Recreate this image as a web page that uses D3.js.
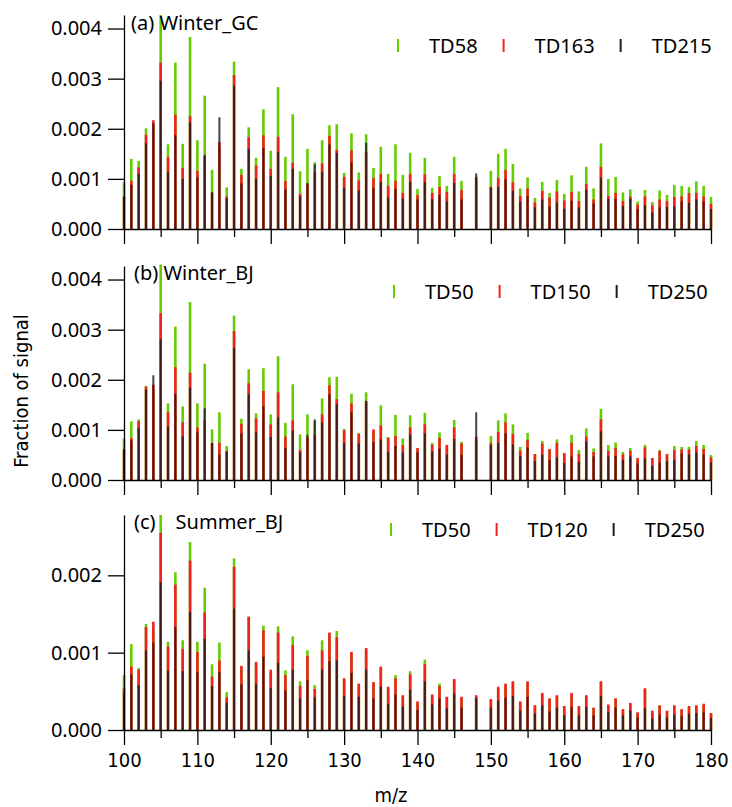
<html>
<head>
  <meta charset="utf-8" />
  <script src="https://cdnjs.cloudflare.com/ajax/libs/d3/7.8.5/d3.min.js"></script>
  <style>
    body { margin: 0; background: #fff; }
    .axis path, .axis line { stroke: #000; stroke-width: 1.3; }
    .axis text { font-family: "Noto Sans", "Open Sans", sans-serif; font-size: 20px; fill: #000; }
    .xaxis text { font-family: "Liberation Sans Narrow", "DejaVu Sans Condensed", sans-serif; font-size: 20px; }
    .ptitle, .legend text { font-family: "Noto Sans", "Open Sans", sans-serif; font-size: 20px; fill: #000; }
    .atitle { font-family: "Liberation Sans Narrow", "DejaVu Sans Condensed", sans-serif; font-size: 20px; fill: #000; }
  </style>
</head>
<body>
  <svg width="732" height="807"></svg>
<script>

// m/z of each stick (147 and 149 have no signal)
const mz = [100,101,102,103,104,105,106,107,108,109,
            110,111,112,113,114,115,116,117,118,119,
            120,121,122,123,124,125,126,127,128,129,
            130,131,132,133,134,135,136,137,138,139,
            140,141,142,143,144,145,146,148,150,151,
            152,153,154,155,156,157,158,159,160,161,
            162,163,164,165,166,167,168,169,170,171,
            172,173,174,175,176,177,178,179,180]

// fraction of signal, in units of 1e-3
const gcTD58 = [0.94,1.40,1.36,2.01,2.05,4.27,1.69,3.32,1.70,3.83,
                1.77,2.66,1.18,1.60,0.83,3.34,1.20,2.03,1.42,2.39,
                1.56,2.83,1.44,2.29,1.15,1.60,1.33,1.77,2.07,2.09,
                1.12,1.91,1.13,1.89,1.22,1.64,1.10,1.69,1.08,1.52,
                0.80,1.42,0.82,1.06,0.86,1.44,0.96,1.00,1.16,1.50,
                1.60,1.30,0.81,1.03,0.62,0.94,0.72,0.98,0.70,1.07,
                0.75,1.24,0.81,1.71,1.00,1.04,0.73,0.79,0.55,0.78,
                0.54,0.77,0.68,0.88,0.86,0.84,0.95,0.86,0.64]
const gcTD163 = [0.64,0.96,1.23,1.88,2.17,3.32,1.44,2.28,1.22,2.25,
                 1.16,1.45,0.72,1.74,0.65,3.07,1.08,1.83,1.27,1.87,
                 1.20,1.84,0.96,1.32,0.70,0.90,1.13,1.31,1.86,1.58,
                 1.04,1.57,0.97,1.54,1.02,1.10,0.86,0.96,0.72,1.10,
                 0.68,1.09,0.72,0.84,0.74,1.10,0.78,1.04,0.84,1.02,
                 1.18,0.93,0.66,0.81,0.53,0.76,0.63,0.75,0.57,0.74,
                 0.56,0.90,0.59,1.24,0.66,0.72,0.56,0.65,0.49,0.65,
                 0.47,0.59,0.56,0.64,0.65,0.72,0.72,0.65,0.50]
const gcTD215 = [0.65,0.88,1.10,1.71,2.11,2.96,1.14,1.87,1.00,2.13,
                 1.03,1.48,0.74,2.23,0.61,2.86,0.91,1.60,1.00,1.62,
                 1.06,1.54,0.79,1.20,0.65,0.92,1.29,1.14,1.69,1.52,
                 0.82,1.33,0.77,1.72,0.82,0.94,0.63,0.80,0.61,0.94,
                 0.59,0.94,0.59,0.68,0.55,0.92,0.59,1.11,0.83,0.84,
                 0.99,0.76,0.55,0.66,0.43,0.59,0.45,0.53,0.40,0.56,
                 0.43,0.78,0.51,1.02,0.60,0.60,0.46,0.60,0.40,0.48,
                 0.33,0.43,0.44,0.45,0.55,0.52,0.59,0.55,0.40]

const wbjTD50 = [0.83,1.17,1.21,1.88,1.80,4.30,1.53,3.06,1.47,3.55,
                 1.53,2.32,1.01,1.35,0.68,3.28,1.22,2.21,1.33,2.23,
                 1.31,2.47,1.14,1.91,0.91,1.31,1.18,1.63,2.05,2.06,
                 1.02,1.72,0.94,1.75,0.97,1.49,0.86,1.30,0.83,1.29,
                 0.62,1.34,0.74,0.95,0.68,1.20,0.76,0.80,0.88,1.19,
                 1.33,1.11,0.66,0.94,0.50,0.78,0.60,0.81,0.54,0.90,
                 0.60,1.03,0.63,1.42,0.70,0.75,0.56,0.64,0.42,0.70,
                 0.43,0.60,0.52,0.68,0.66,0.66,0.78,0.70,0.50]
const wbjTD150 = [0.60,0.84,1.17,1.86,1.90,3.33,1.35,2.25,1.15,2.14,
                  1.05,1.20,0.74,0.74,0.58,2.97,1.12,1.93,1.23,1.78,
                  1.11,1.75,0.87,1.19,0.60,0.85,0.90,1.31,1.89,1.61,
                  0.99,1.53,0.92,1.57,1.01,1.09,0.84,0.88,0.70,1.05,
                  0.64,1.11,0.70,0.84,0.70,1.05,0.73,0.86,0.74,0.96,
                  1.15,0.92,0.59,0.80,0.52,0.73,0.62,0.74,0.53,0.74,
                  0.52,0.87,0.56,1.21,0.58,0.64,0.51,0.58,0.44,0.65,
                  0.44,0.58,0.51,0.60,0.61,0.61,0.68,0.62,0.45]
const wbjTD250 = [0.62,0.79,1.04,1.80,2.09,2.81,1.07,1.72,0.87,1.85,
                  0.95,1.43,0.74,0.51,0.57,2.64,0.93,1.71,0.95,1.47,
                  0.86,1.25,0.64,0.99,0.55,0.90,1.21,1.15,1.71,1.51,
                  0.74,1.35,0.73,1.58,0.76,0.81,0.56,0.68,0.55,0.91,
                  0.55,0.93,0.57,0.63,0.51,0.82,0.50,1.35,0.70,0.74,
                  0.93,0.71,0.48,0.65,0.38,0.50,0.40,0.45,0.34,0.47,
                  0.36,0.77,0.47,0.97,0.47,0.48,0.40,0.47,0.33,0.43,
                  0.28,0.35,0.38,0.40,0.53,0.51,0.55,0.51,0.35]

const sbjTD50 = [0.71,1.11,0.80,1.37,1.30,2.78,1.14,2.04,1.16,2.43,
                 1.14,1.84,0.85,1.13,0.49,2.22,0.80,1.47,0.85,1.35,
                 0.75,1.34,0.77,1.21,0.63,1.03,0.58,1.16,1.25,1.28,
                 0.65,0.99,0.57,1.03,0.60,0.80,0.53,0.71,0.44,0.76,
                 0.35,0.91,0.44,0.60,0.42,0.64,0.41,0.43,0.39,0.54,
                 0.58,0.62,0.35,0.61,0.31,0.46,0.40,0.44,0.30,0.46,
                 0.30,0.43,0.28,0.62,0.31,0.40,0.26,0.34,0.22,0.52,
                 0.23,0.31,0.23,0.31,0.26,0.30,0.31,0.32,0.21]
const sbjTD120 = [0.54,0.82,0.78,1.33,1.40,2.55,1.08,1.88,1.05,2.19,
                  1.01,1.52,0.69,0.90,0.42,2.11,0.83,1.46,0.88,1.29,
                  0.78,1.26,0.71,1.10,0.57,0.96,0.53,1.03,1.26,1.20,
                  0.67,1.01,0.60,1.06,0.62,0.82,0.56,0.67,0.45,0.72,
                  0.37,0.85,0.46,0.57,0.43,0.66,0.43,0.45,0.40,0.56,
                  0.60,0.63,0.37,0.63,0.32,0.48,0.41,0.45,0.31,0.48,
                  0.31,0.45,0.29,0.63,0.33,0.41,0.27,0.35,0.23,0.54,
                  0.25,0.32,0.25,0.32,0.27,0.31,0.32,0.34,0.22]
const sbjTD250 = [0.48,0.72,0.58,1.03,1.13,1.91,0.77,1.33,0.76,1.53,
                  0.75,1.18,0.57,0.75,0.35,1.57,0.59,1.03,0.60,0.95,
                  0.54,0.87,0.51,0.78,0.41,0.65,0.42,0.78,0.89,0.90,
                  0.44,0.74,0.43,0.78,0.41,0.56,0.34,0.46,0.30,0.52,
                  0.26,0.63,0.33,0.41,0.28,0.47,0.29,0.41,0.29,0.38,
                  0.42,0.44,0.25,0.43,0.21,0.32,0.24,0.29,0.19,0.30,
                  0.19,0.30,0.19,0.44,0.23,0.29,0.19,0.25,0.16,0.28,
                  0.15,0.20,0.16,0.20,0.18,0.21,0.22,0.23,0.16]

const yTicksWinter = [0, 1, 2, 3, 4]
const yTicksSummer = [0, 1, 2]
const xMajor = [100, 110, 120, 130, 140, 150, 160, 170, 180]
const xMinor = [105, 115, 125, 135, 145, 155, 165, 175]

const colors = ["#66cc00", "#f42020", "#1c1c1c"]
const widths = [2.6, 2.6, 2]

const panels = [
  { title: "(a) Winter_GC", names: ["TD58", "TD163", "TD215"], series: [gcTD58, gcTD163, gcTD215],
    yMax: 4.27, ticks: yTicksWinter, bottom: 229, top: 15, legendX: 398, legendY: 46, titleX: 131, titleY: 23 },
  { title: "(b) Winter_BJ", names: ["TD50", "TD150", "TD250"], series: [wbjTD50, wbjTD150, wbjTD250],
    yMax: 4.27, ticks: yTicksWinter, bottom: 480, top: 266, legendX: 394, legendY: 292, titleX: 134, titleY: 273 },
  { title: "(c)\u2002\u2002Summer_BJ", names: ["TD50", "TD120", "TD250"], series: [sbjTD50, sbjTD120, sbjTD250],
    yMax: 2.78, ticks: yTicksSummer, bottom: 730, top: 515, legendX: 391, legendY: 530, titleX: 134, titleY: 522 }
]

const svg = d3.select("svg")
const x = d3.scaleLinear().domain([100, 180]).range([124, 711])

panels.forEach((p, pi) => {
  const y = d3.scaleLinear().domain([0, p.yMax]).range([p.bottom, p.top])
  const g = svg.append("g")

  // sticks: green behind, red, black in front
  p.series.forEach((vals, si) => {
    g.selectAll("line.s" + si)
      .data(vals)
      .enter()
      .append("line")
        .attr("class", "s" + si)
        .attr("x1", (d, i) => x(mz[i]))
        .attr("x2", (d, i) => x(mz[i]))
        .attr("y1", y(0))
        .attr("y2", d => y(d))
        .attr("stroke", colors[si])
        .attr("stroke-width", widths[si])
        .attr("opacity", si == 2 ? 0.82 : 1)
  })

  // axes
  const yAxis = d3.axisLeft(y).tickValues(p.ticks).tickSize(16).tickPadding(6)
                  .tickSizeOuter(0).tickFormat(d => (d / 1000).toFixed(3))
  g.append("g").attr("class", "axis").attr("transform", "translate(124,0)").call(yAxis)

  const xAxis = d3.axisBottom(x).tickValues(xMajor).tickSize(15).tickPadding(8).tickSizeOuter(0)
  const xa = g.append("g").attr("class", "axis xaxis").attr("transform", `translate(0,${p.bottom})`).call(xAxis)
  if (pi < 2) xa.selectAll("text").remove()
  const xMin = d3.axisBottom(x).tickValues(xMinor).tickSize(8).tickFormat("").tickSizeOuter(0)
  g.append("g").attr("class", "axis").attr("transform", `translate(0,${p.bottom})`).call(xMin)
    .select("path").remove()

  // panel title
  g.append("text").attr("class", "ptitle").attr("x", p.titleX).attr("y", p.titleY)
    .attr("dy", "0.35em").text(p.title)

  // legend
  const lg = g.append("g").attr("class", "legend")
  let lx = p.legendX
  p.names.forEach((name, si) => {
    lg.append("line")
      .attr("x1", lx).attr("x2", lx)
      .attr("y1", p.legendY - 7).attr("y2", p.legendY + 6)
      .attr("stroke", colors[si]).attr("stroke-width", 2)
    const t = lg.append("text").attr("x", lx + 31).attr("y", p.legendY).attr("dy", "0.35em").text(name)
    lx += 31 + t.node().getComputedTextLength() + 26
  })
})

svg.append("text").attr("class", "atitle")
  .attr("transform", "translate(21,391) rotate(-90)")
  .attr("text-anchor", "middle").attr("dy", "0.35em")
  .text("Fraction of signal")

svg.append("text").attr("class", "atitle")
  .attr("x", 391).attr("y", 795).attr("text-anchor", "middle").attr("dy", "0.35em")
  .text("m/z")

</script>
</body>
</html>
